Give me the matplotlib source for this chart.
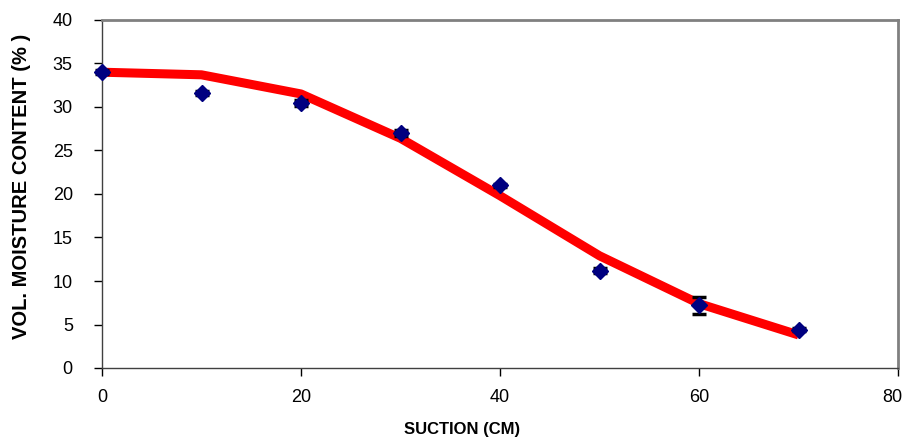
import matplotlib
matplotlib.use("Agg")
import matplotlib.pyplot as plt
from matplotlib.transforms import ScaledTranslation

suction = [0, 10, 20, 30, 40, 50, 60, 70]
moisture_obs = [34.0, 31.6, 30.5, 27.0, 21.0, 11.2, 7.2, 4.4]
moisture_err = [0.2, 0.2, 0.35, 0.3, 0.15, 0.25, 0.95, 0.2]
moisture_fit = [34.0, 33.7, 31.5, 26.4, 19.8, 12.9, 7.4, 3.8]
xticks = [0, 20, 40, 60, 80]
yticks = [0, 5, 10, 15, 20, 25, 30, 35, 40]

plt.rcParams['font.family'] = ['Liberation Sans', 'DejaVu Sans']

fig = plt.figure(figsize=(9.05, 4.42), dpi=100)
ax = fig.add_axes([102/905, 74/442, 796/905, 348/442])

ax.plot(suction, moisture_fit, color='#ff0000', lw=6.5, solid_capstyle='butt', zorder=2)
ax.errorbar(suction, moisture_obs, yerr=moisture_err, fmt='D', color='#000080',
            markersize=8.5, ecolor='black', elinewidth=1.5, capsize=5, capthick=2.5,
            zorder=3, clip_on=False)

ax.set_xlim(0, 80)
ax.set_ylim(0, 40)
ax.set_xticks(xticks)
ax.set_yticks(yticks)
ax.tick_params(direction='out', length=6, width=1, labelsize=13, colors='black')
ax.tick_params(axis='x', pad=9)
ax.tick_params(axis='y', pad=15)

# keep the last x tick label inside the figure
last = ax.get_xticklabels()[-1]
last.set_transform(last.get_transform() + ScaledTranslation(-6 / 100, 0, fig.dpi_scale_trans))

for s in ['top', 'right']:
    ax.spines[s].set_color('#808080')
    ax.spines[s].set_linewidth(2)
for s in ['left', 'bottom']:
    ax.spines[s].set_color('#404040')
    ax.spines[s].set_linewidth(1)

ax.set_xlabel('SUCTION (CM)', fontsize=12, fontweight='bold')
ax.xaxis.set_label_coords((462 - 102) / 796, (442 - 434 - 74) / 348)
ax.xaxis.label.set_va('baseline')

ax.set_ylabel('VOL. MOISTURE CONTENT (% )', fontsize=14.5, fontweight='bold')
ax.yaxis.set_label_coords((22 - 102) / 796, (442 - 186 - 74) / 348)
ax.yaxis.label.set_va('center')

fig.savefig('out.png', dpi=100, facecolor='white')
